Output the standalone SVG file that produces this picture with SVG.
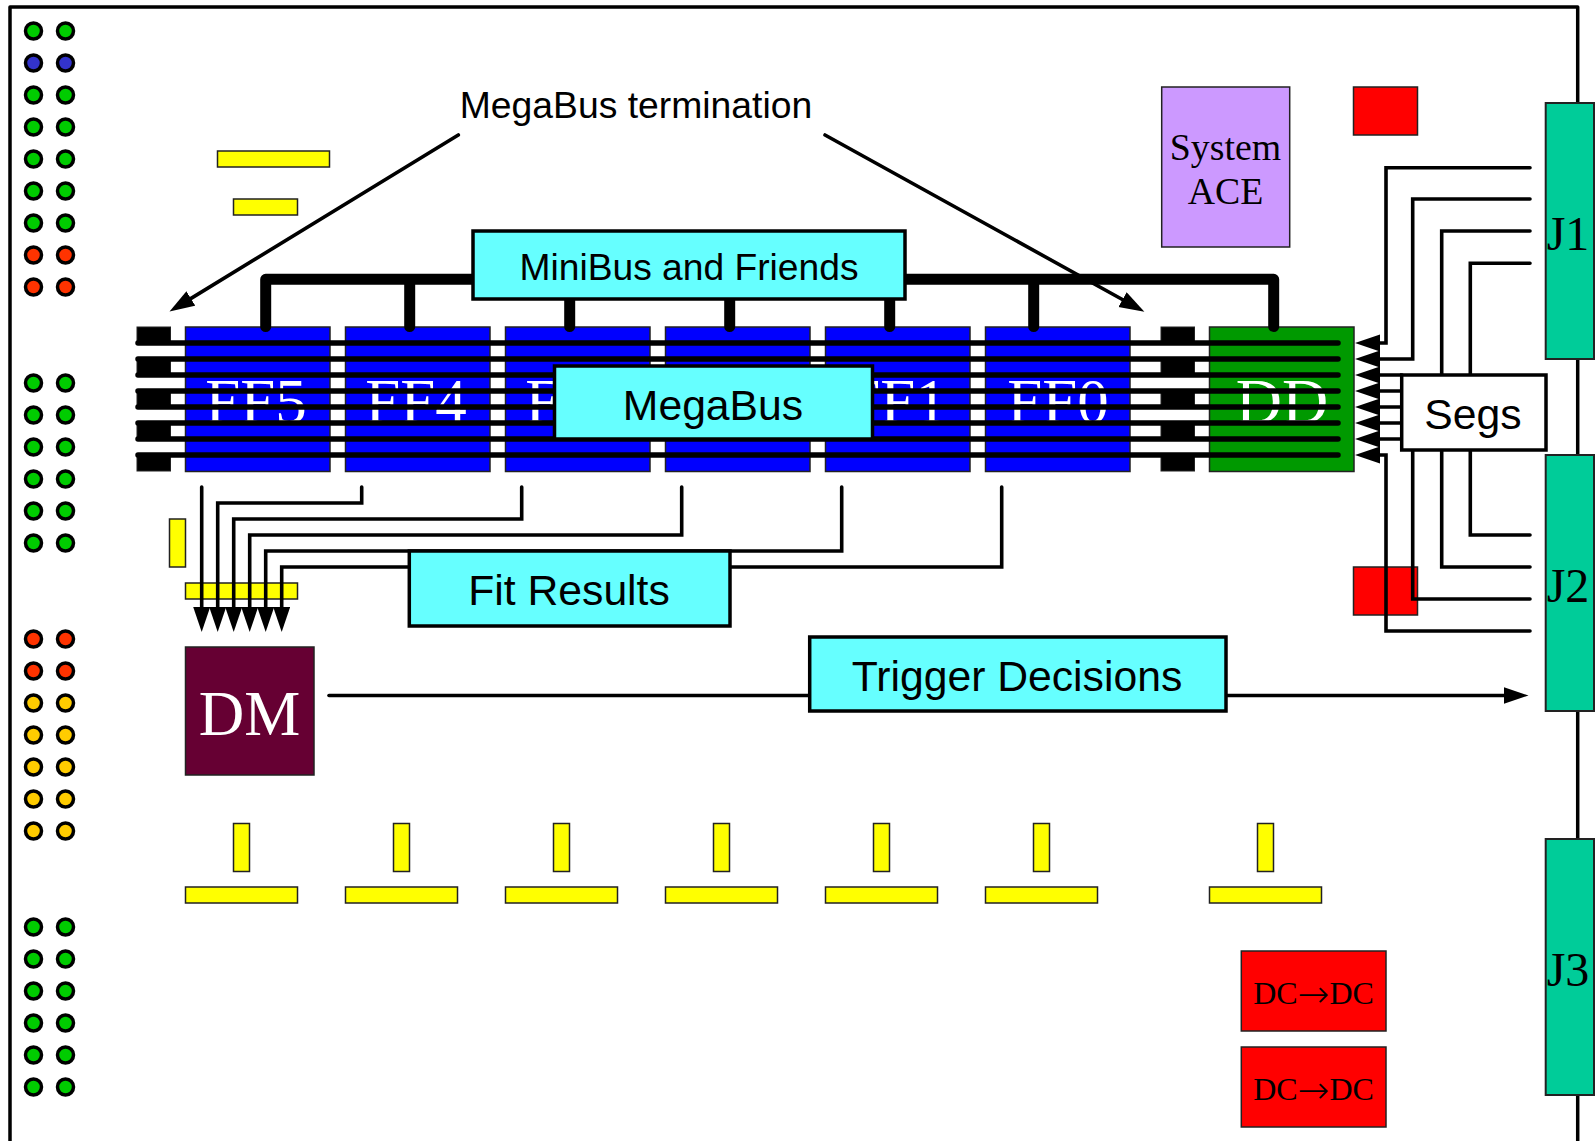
<svg xmlns="http://www.w3.org/2000/svg" width="1595" height="1141" viewBox="0 0 1595 1141">
<style>
text{font-family:"Liberation Serif","Times New Roman",serif;text-anchor:middle}
.s{font-family:"Liberation Sans",Arial,sans-serif;fill:#000}
.b{fill:#0000ff;stroke:#222;stroke-width:1.5}
.w{fill:#fff;font-size:63px}
.y{fill:#ffff00;stroke:#222;stroke-width:1.5}
.r{fill:#ff0000;stroke:#222;stroke-width:1.5}
.j{fill:#00cc99;stroke:#222;stroke-width:2}
.c{fill:#66ffff;stroke:#000;stroke-width:3.5}
.t{fill:#000;stroke:#222;stroke-width:1}
.l{fill:none;stroke:#000;stroke-width:3.6;stroke-linecap:round}
.bus{fill:none;stroke:#000;stroke-width:5.5;stroke-linecap:round}
.fat{fill:none;stroke:#000;stroke-width:11;stroke-linecap:round;stroke-linejoin:round}
.g circle{stroke:#000;stroke-width:3.5;r:8}
.gr{fill:#00cc00}.bl{fill:#3333cc}.re{fill:#ff3300}.ye{fill:#ffcc00}
.ar{font-family:"DejaVu Sans",sans-serif;font-size:38px;font-weight:200}
</style>
<defs>
<marker id="ah" markerUnits="userSpaceOnUse" markerWidth="26" markerHeight="18" refX="5" refY="8.5" orient="auto"><path d="M0 0L25 8.500L0 17z" fill="#000"/></marker>
</defs>
<g id="board"><path d="M10 1141V7H1577.700V1141" fill="none" stroke="#000" stroke-width="3.500" stroke-linejoin="round"/></g>
<g id="leds" class="g">
<g class="gr"><circle cx="33.500" cy="31"/><circle cx="65.500" cy="31"/></g>
<g class="bl"><circle cx="33.500" cy="63"/><circle cx="65.500" cy="63"/></g>
<g class="gr"><circle cx="33.500" cy="95"/><circle cx="65.500" cy="95"/><circle cx="33.500" cy="127"/><circle cx="65.500" cy="127"/><circle cx="33.500" cy="159"/><circle cx="65.500" cy="159"/><circle cx="33.500" cy="191"/><circle cx="65.500" cy="191"/><circle cx="33.500" cy="223"/><circle cx="65.500" cy="223"/></g>
<g class="re"><circle cx="33.500" cy="255"/><circle cx="65.500" cy="255"/><circle cx="33.500" cy="287"/><circle cx="65.500" cy="287"/></g>
<g class="gr"><circle cx="33.500" cy="383"/><circle cx="65.500" cy="383"/><circle cx="33.500" cy="415"/><circle cx="65.500" cy="415"/><circle cx="33.500" cy="447"/><circle cx="65.500" cy="447"/><circle cx="33.500" cy="479"/><circle cx="65.500" cy="479"/><circle cx="33.500" cy="511"/><circle cx="65.500" cy="511"/><circle cx="33.500" cy="543"/><circle cx="65.500" cy="543"/></g>
<g class="re"><circle cx="33.500" cy="639"/><circle cx="65.500" cy="639"/><circle cx="33.500" cy="671"/><circle cx="65.500" cy="671"/></g>
<g class="ye"><circle cx="33.500" cy="703"/><circle cx="65.500" cy="703"/><circle cx="33.500" cy="735"/><circle cx="65.500" cy="735"/><circle cx="33.500" cy="767"/><circle cx="65.500" cy="767"/><circle cx="33.500" cy="799"/><circle cx="65.500" cy="799"/><circle cx="33.500" cy="831"/><circle cx="65.500" cy="831"/></g>
<g class="gr"><circle cx="33.500" cy="927"/><circle cx="65.500" cy="927"/><circle cx="33.500" cy="959"/><circle cx="65.500" cy="959"/><circle cx="33.500" cy="991"/><circle cx="65.500" cy="991"/><circle cx="33.500" cy="1023"/><circle cx="65.500" cy="1023"/><circle cx="33.500" cy="1055"/><circle cx="65.500" cy="1055"/><circle cx="33.500" cy="1087"/><circle cx="65.500" cy="1087"/></g>
</g>
<g id="yellow-parts">
<rect class="y" x="217.500" y="151" width="112" height="16"/>
<rect class="y" x="233.500" y="199" width="64" height="16"/>
<rect class="y" x="169.500" y="519" width="16" height="48"/>
<rect class="y" x="185.500" y="583" width="112" height="16"/>
<rect class="y" x="233.500" y="823.500" width="16" height="48"/><rect class="y" x="185.500" y="887" width="112" height="16"/>
<rect class="y" x="393.500" y="823.500" width="16" height="48"/><rect class="y" x="345.500" y="887" width="112" height="16"/>
<rect class="y" x="553.500" y="823.500" width="16" height="48"/><rect class="y" x="505.500" y="887" width="112" height="16"/>
<rect class="y" x="713.500" y="823.500" width="16" height="48"/><rect class="y" x="665.500" y="887" width="112" height="16"/>
<rect class="y" x="873.500" y="823.500" width="16" height="48"/><rect class="y" x="825.500" y="887" width="112" height="16"/>
<rect class="y" x="1033.500" y="823.500" width="16" height="48"/><rect class="y" x="985.500" y="887" width="112" height="16"/>
<rect class="y" x="1257.500" y="823.500" width="16" height="48"/><rect class="y" x="1209.500" y="887" width="112" height="16"/>
</g>
<g id="red-parts"><rect class="r" x="1353.500" y="87" width="64" height="48"/><rect class="r" x="1353.500" y="567" width="64" height="48"/></g>
<g id="terminators">
<rect class="t" x="137" y="327" width="33.500" height="16"/><rect class="t" x="137" y="359" width="33.500" height="16"/><rect class="t" x="137" y="391" width="33.500" height="16"/><rect class="t" x="137" y="423" width="33.500" height="16"/><rect class="t" x="137" y="455" width="33.500" height="16"/>
<rect class="t" x="1161" y="327" width="33.500" height="16"/><rect class="t" x="1161" y="359" width="33.500" height="16"/><rect class="t" x="1161" y="391" width="33.500" height="16"/><rect class="t" x="1161" y="423" width="33.500" height="16"/><rect class="t" x="1161" y="455" width="33.500" height="16"/>
</g>
<g id="FF5"><rect class="b" x="185.500" y="327" width="144.500" height="144.500"/><text class="w" x="256" y="423">FF5</text></g>
<g id="FF4"><rect class="b" x="345.500" y="327" width="144.500" height="144.500"/><text class="w" x="416" y="423">FF4</text></g>
<g id="FF3"><rect class="b" x="505.500" y="327" width="144.500" height="144.500"/><text class="w" x="576" y="423">FF3</text></g>
<g id="FF2"><rect class="b" x="665.500" y="327" width="144.500" height="144.500"/></g>
<g id="FF1"><rect class="b" x="825.500" y="327" width="144.500" height="144.500"/><text class="w" x="896" y="423">FF1</text></g>
<g id="FF0"><rect class="b" x="985.500" y="327" width="144.500" height="144.500"/><text class="w" x="1058" y="423">FF0</text></g>
<g id="DD"><rect x="1209.500" y="327" width="144.500" height="144.500" fill="#009900" stroke="#222" stroke-width="1.500"/><text class="w" x="1282" y="423" style="font-size:64px">DD</text></g>
<g id="connectors">
<path class="fat" d="M265.700 326.500V279.300H1273.700V326.500M409.700 279.300V326.500M569.700 279.300V326.500M729.700 279.300V326.500M889.700 279.300V326.500M1033.700 279.300V326.500"/>
<path class="bus" d="M138 343H1338M138 359H1338M138 375H1338M138 391H1338M138 407H1338M138 423H1338M138 439H1338M138 455H1338"/>
<path class="l" d="M458.300 135L186.600 301.100" marker-end="url(#ah)"/>
<path class="l" d="M825 135L1126.900 302" marker-end="url(#ah)"/>
<path class="l" d="M201.700 487V612" marker-end="url(#ah)"/>
<path class="l" d="M361.700 487V503H217.700V612" marker-end="url(#ah)"/>
<path class="l" d="M521.700 487V519H233.700V612" marker-end="url(#ah)"/>
<path class="l" d="M681.700 487V535H249.700V612" marker-end="url(#ah)"/>
<path class="l" d="M841.700 487V551H265.700V612" marker-end="url(#ah)"/>
<path class="l" d="M1001.700 487V567H281.700V612" marker-end="url(#ah)"/>
<path class="l" d="M329 695.500H1508.500" marker-end="url(#ah)"/>
<path class="l" d="M1530 167.700H1386V343H1375" marker-end="url(#ah)"/>
<path class="l" d="M1530 199H1412.700V359H1375" marker-end="url(#ah)"/>
<path class="l" d="M1530 231H1441.700V375"/>
<path class="l" d="M1530 263.300H1470.300V375"/>
<path class="l" d="M1402 375H1375" marker-end="url(#ah)"/>
<path class="l" d="M1402 391H1375" marker-end="url(#ah)"/>
<path class="l" d="M1402 407H1375" marker-end="url(#ah)"/>
<path class="l" d="M1402 423H1375" marker-end="url(#ah)"/>
<path class="l" d="M1402 439H1375" marker-end="url(#ah)"/>
<path class="l" d="M1530 631H1386V455H1375" marker-end="url(#ah)"/>
<path class="l" d="M1530 599H1412.700V450"/>
<path class="l" d="M1530 567H1441.700V450"/>
<path class="l" d="M1530 535H1470.300V450"/>
</g>
<g id="MegaBusTermination"><text class="s" x="636" y="118" font-size="37.300">MegaBus termination</text></g>
<g id="SystemACE"><rect x="1161.700" y="87" width="128" height="160" fill="#cc99ff" stroke="#222" stroke-width="1.500"/><text x="1225.500" y="159.500" font-size="37.800">System</text><text x="1225.500" y="204" font-size="37.800">ACE</text></g>
<g id="MiniBus"><rect class="c" x="473" y="231" width="432" height="68"/><text class="s" x="689" y="280" font-size="37.200">MiniBus and Friends</text></g>
<g id="MegaBus"><rect class="c" x="554.500" y="366" width="318" height="73"/><text class="s" x="713" y="420" font-size="42.700">MegaBus</text></g>
<g id="Segs"><rect x="1401.700" y="375" width="144.300" height="75" fill="#fff" stroke="#000" stroke-width="3.500"/><text class="s" x="1473" y="429" font-size="42.700">Segs</text></g>
<g id="FitResults"><rect class="c" x="409.300" y="551" width="320.700" height="75"/><text class="s" x="569" y="605" font-size="42.700">Fit Results</text></g>
<g id="TriggerDecisions"><rect class="c" x="809.700" y="637" width="416.300" height="74"/><text class="s" x="1017" y="691" font-size="42.700">Trigger Decisions</text></g>
<g id="DM"><rect x="185.500" y="647" width="128.500" height="128" fill="#660033" stroke="#222" stroke-width="1.500"/><text x="249.500" y="735" font-size="63" fill="#fff">DM</text></g>
<g id="J1"><rect class="j" x="1545.700" y="103" width="48.300" height="256"/><text x="1568" y="250" font-size="48">J1</text></g>
<g id="J2"><rect class="j" x="1545.700" y="455" width="48.300" height="256"/><text x="1568" y="602" font-size="48">J2</text></g>
<g id="J3"><rect class="j" x="1545.700" y="839" width="48.300" height="256"/><text x="1568" y="986" font-size="48">J3</text></g>
<g id="DC1"><rect class="r" x="1241.300" y="951" width="144.700" height="80"/><text x="1313.500" y="1004" font-size="32">DC<tspan class="ar" dy="3">→</tspan><tspan dy="-3">DC</tspan></text></g>
<g id="DC2"><rect class="r" x="1241.300" y="1047" width="144.700" height="80"/><text x="1313.500" y="1100" font-size="32">DC<tspan class="ar" dy="3">→</tspan><tspan dy="-3">DC</tspan></text></g>
</svg>
